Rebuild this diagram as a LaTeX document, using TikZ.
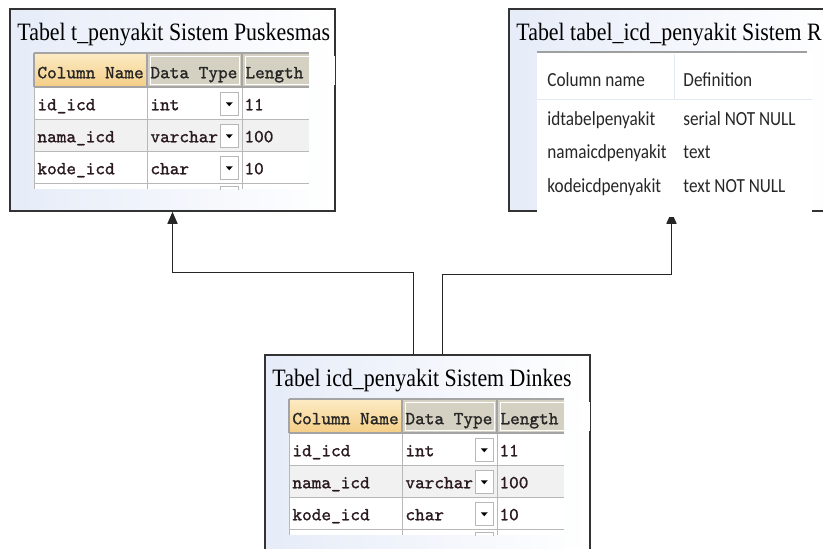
\documentclass[tikz,border=0pt]{standalone}
\usepackage{fontspec}
\setmainfont{Liberation Serif}[FakeStretch=0.875]
\newfontfamily\gridfont{lmmono10-regular.otf}[FakeBold=1.2]
\newfontfamily\pgfont{Carlito}[FakeStretch=0.86]
\usetikzlibrary{arrows.meta}

\definecolor{boxtint}{HTML}{E6ECF8}
\definecolor{gridline}{HTML}{B8B8B8}
\definecolor{headline}{HTML}{A4A4A4}
\definecolor{headorange}{HTML}{F4CD85}
\definecolor{headorangetop}{HTML}{FCEBC4}
\definecolor{headgrey}{HTML}{D5D1C2}
\definecolor{rowalt}{HTML}{F1F1F1}
\definecolor{celltext}{HTML}{2A1A20}
\definecolor{pglight}{HTML}{E3E9F1}

% grid of the table editor, placed inside box #1
\newcommand{\sqlgrid}[1]{%
  \begin{scope}[shift={(#1.north west)},shift={(25,45)}]
    \fill[white] (0,34) rectangle (275,136);
    \fill[rowalt] (0,66) rectangle (275,98);
    \shade[top color=headorangetop,bottom color=headorange] (0,0) rectangle (113,34);
    \fill[headgrey] (113,0) rectangle (275,34);
    \foreach \x in {113,208} \draw[white,line width=1] (\x+3,3) rectangle (\x+95-3,31);
    \foreach \y in {34,66,98,130} \draw[gridline,line width=1.5] (0,\y) -- (275,\y);
    \foreach \x in {0,113,208} \draw[gridline,line width=1.5] (\x,0) -- (\x,136);
    \draw[headline,line width=2] (0,0) -- (275,0) (0,34) -- (275,34);
    \foreach \x in {0,113,208} \draw[headline,line width=2] (\x,0) -- (\x,34);
    \node[headtext] at (3,25) {Column Name};
    \node[headtext] at (116,25) {Data Type};
    \node[headtext] at (211,25) {Length};
    \foreach \fname/\ftype/\flen [count=\rw] in {id\_icd/int/11,nama\_icd/varchar/100,kode\_icd/char/10} {
      \node[celltxt] at (3,{25+32*\rw}) {\fname};
      \node[celltxt] at (116,{25+32*\rw}) {\ftype};
      \node[celltxt] at (210,{25+32*\rw}) {\flen};
      \draw[gridline,fill=white,line width=1] (186,{32*\rw+7}) rectangle (204,{32*\rw+30});
      \fill (191.5,{32*\rw+17}) -- (198.5,{32*\rw+17}) -- (195,{32*\rw+21}) -- cycle;
    }
    \draw[gridline,line width=1] (186,137) -- (186,133) -- (204,133) -- (204,137);
  \end{scope}}

\begin{document}
\begin{tikzpicture}[x=1pt,y=-1pt,
  tblbox/.style={draw=black!80,line width=1.5,left color=boxtint,right color=white,
    minimum width=325pt,minimum height=202pt,inner sep=0pt},
  title/.style={anchor=base west,inner sep=0pt,font=\fontsize{25}{25}\selectfont},
  headtext/.style={anchor=base west,inner sep=0pt,text=black!85,font=\gridfont\fontsize{18.4}{18}\selectfont},
  celltxt/.style={anchor=base west,inner sep=0pt,text=celltext,font=\gridfont\fontsize{18.4}{18}\selectfont},
  pgtxt/.style={anchor=base west,inner sep=0pt,text=black!85,font=\pgfont\fontsize{20}{20}\selectfont},
  link/.style={draw=black!85,line width=1.5,-{Triangle[length=12pt,width=10pt]}}]
  \useasboundingbox (0,0) rectangle (823,549);
  \clip (0,0) rectangle (823,549);

  \node[tblbox] (pkm) at (172.5,110) {};
  \node[tblbox] (rs) at (671.5,110) {};
  \node[tblbox] (dkn) at (427.5,456) {};

  \draw[link] ([xshift=-14pt]dkn.north) -- ++(0,-82) -| (pkm.south);
  \draw[link] ([xshift=15pt]dkn.north) -- ++(0,-80) -| (rs.south);

  \node[title] at ([xshift=8pt,yshift=-32pt]pkm.north west) {Tabel t\_penyakit Sistem Puskesmas};
  \node[title] at ([xshift=8pt,yshift=-32pt]rs.north west) {Tabel tabel\_icd\_penyakit Sistem RS};
  \node[title] at ([xshift=8pt,yshift=-32pt]dkn.north west) {Tabel icd\_penyakit Sistem Dinkes};

  \sqlgrid{pkm}
  \sqlgrid{dkn}

  % column list of the postgres table
  \begin{scope}[shift={(rs.north west)},shift={(29,44)}]
    \fill[white] (0,0) rectangle (275,165);
    \draw[pglight,line width=1] (137,2) -- (137,47) (0,47) -- (275,47);
    \draw[gray!75,line width=2] (0,0) -- (270,0);
    \node[pgtxt] at (10,34) {Column name};
    \node[pgtxt] at (146,34) {Definition};
    \foreach \colname/\coldef [count=\rw] in {idtabelpenyakit/serial NOT NULL,namaicdpenyakit/text,kodeicdpenyakit/text NOT NULL} {
      \node[pgtxt] at (10,{39.5+33.5*\rw}) {\colname};
      \node[pgtxt] at (146,{39.5+33.5*\rw}) {\coldef};
    }
  \end{scope}
\end{tikzpicture}
\end{document}
